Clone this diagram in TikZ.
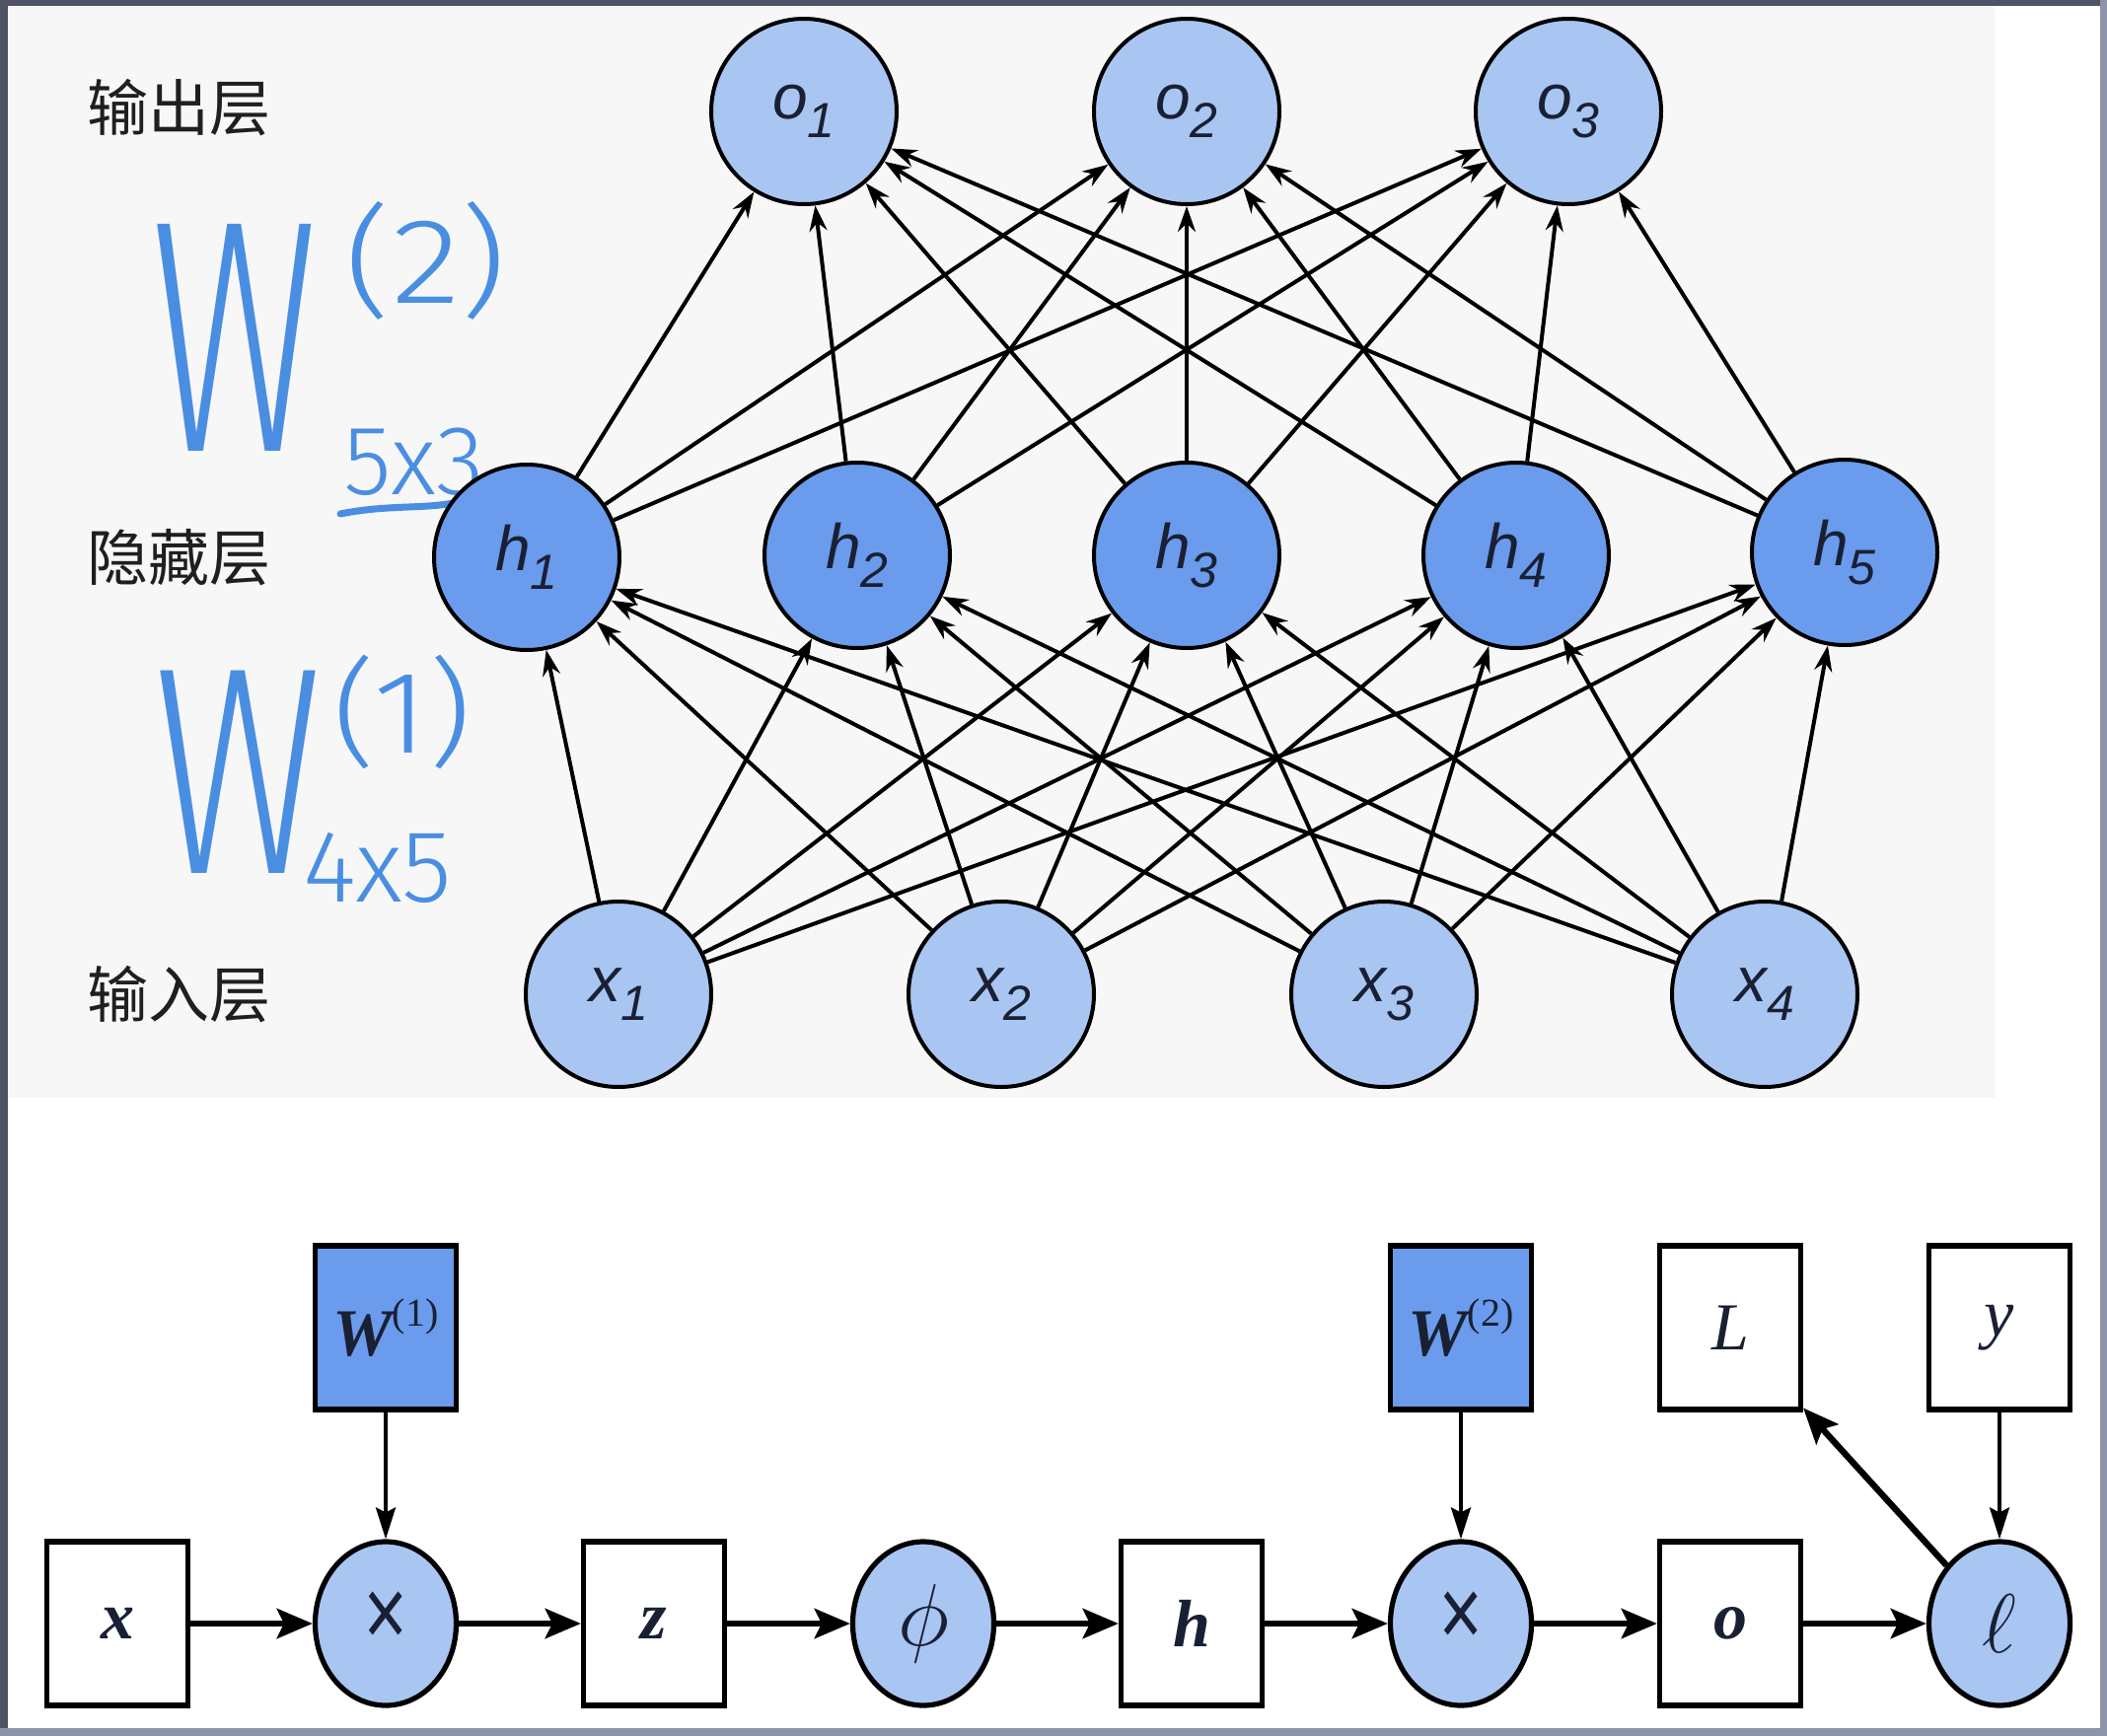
\documentclass[tikz,border=0pt]{standalone}
\usepackage{fontspec}
\usetikzlibrary{arrows.meta,shapes.geometric}
\newfontfamily\cjk{Noto Sans CJK SC}
\newfontfamily\nodefont{Liberation Sans}
\newfontfamily\seriffont{Liberation Serif}
\newfontfamily\hand{Fira Sans Light}
\definecolor{lightblue}{RGB}{169,197,242}
\definecolor{midblue}{RGB}{106,155,236}
\definecolor{handblue}{RGB}{74,142,226}
\definecolor{txtdark}{RGB}{26,32,52}
\definecolor{topbg}{RGB}{247,247,247}
\definecolor{framedark}{RGB}{78,84,100}
\definecolor{framelight}{RGB}{140,148,168}
\newcommand\nsub[2]{#1\raisebox{-0.3em}{\fontsize{25}{25}\selectfont #2}}
\tikzset{
  neuron/.style={circle, draw=black, line width=2pt, minimum size=94pt, inner sep=0pt,
    text=txtdark, font=\nodefont\itshape\fontsize{32}{32}\selectfont},
  inneuron/.style={neuron, fill=lightblue},
  hidneuron/.style={neuron, fill=midblue},
  edge/.style={line width=2pt, -{Stealth[length=13pt,width=9pt]}},
  layerlabel/.style={font=\cjk\fontsize{31}{31}\selectfont, text=black!88},
  hw/.style={text=handblue, inner sep=0pt},
  varbox/.style={rectangle, draw=black, line width=2.6pt, minimum width=71.5pt, minimum height=83pt,
    inner sep=0pt, fill=white, font=\seriffont\fontsize{34}{34}\selectfont, text=txtdark},
  parbox/.style={varbox, fill=midblue},
  opnode/.style={ellipse, draw=black, line width=2.6pt, minimum width=71.5pt, minimum height=83pt,
    inner sep=0pt, fill=lightblue, font=\fontsize{34}{34}\selectfont, text=txtdark},
  barrow/.style={line width=3.2pt, -{Stealth[length=18pt,width=15pt,inset=3.5pt]}},
  varrow/.style={line width=2pt, -{Stealth[length=16pt,width=10pt,inset=2.5pt]}},
}
\begin{document}
\begin{tikzpicture}[x=0.5pt, y=-0.5pt]
\useasboundingbox (0,0) rectangle (2136,1760);
% background and frame
\fill[white] (0,0) rectangle (2136,1760);
\fill[topbg] (8,6) rectangle (2023,1113);
\fill[framedark] (0,0) rectangle (8,1760);
\fill[framedark] (0,0) rectangle (2136,6);
\fill[framelight] (2129,0) rectangle (2136,1760);
\fill[framelight] (0,1752) rectangle (2136,1760);

% layer labels
\node[layerlabel] (lo) at (181,109) {输出层};
\node[layerlabel] (lh) at (181,565) {隐藏层};
\node[layerlabel] (li) at (181,1008) {输入层};

% handwritten notes
\node[hw, font=\hand\fontsize{168}{168}\selectfont, anchor=base] (w2) at (238,457) {\scalebox{0.62}[1]{W}};
\node[hw, font=\hand\fontsize{56}{56}\selectfont] (w2sup) at (432,264) {\scalebox{1.3}[1.1]{(2)}};
\node[hw, font=\hand\fontsize{50}{50}\selectfont] (w2sub) at (420,468) {5x3};
\draw[handblue, line width=3.5pt, line cap=round] (345,521) .. controls (400,510) and (440,518) .. (474,506) .. controls (487,502) and (497,507) .. (507,514);
\node[hw, font=\hand\fontsize{150}{150}\selectfont, anchor=base] (w1) at (242,885) {\scalebox{0.7}[1]{W}};
\node[hw, font=\hand\fontsize{54}{54}\selectfont] (w1sup) at (408,722) {\scalebox{1.25}[1.1]{(1)}};
\node[hw, font=\hand\fontsize{52}{52}\selectfont] (w1sub) at (383,880) {4x5};

% output layer
\node[inneuron] (o1) at (815,113) {\nsub{o}{1}};
\node[inneuron] (o2) at (1203,113) {\nsub{o}{2}};
\node[inneuron] (o3) at (1590,113) {\nsub{o}{3}};
% hidden layer
\node[hidneuron] (h1) at (534,565) {\nsub{h}{1}};
\node[hidneuron] (h2) at (869,563) {\nsub{h}{2}};
\node[hidneuron] (h3) at (1203,563) {\nsub{h}{3}};
\node[hidneuron] (h4) at (1537,563) {\nsub{h}{4}};
\node[hidneuron] (h5) at (1870,560) {\nsub{h}{5}};
% input layer
\node[inneuron] (x1) at (627,1008) {\nsub{x}{1}};
\node[inneuron] (x2) at (1015,1008) {\nsub{x}{2}};
\node[inneuron] (x3) at (1403,1008) {\nsub{x}{3}};
\node[inneuron] (x4) at (1789,1008) {\nsub{x}{4}};

\foreach \i in {1,...,4}
  \foreach \j in {1,...,5}
    \draw[edge] (x\i) -- (h\j);
\foreach \j in {1,...,5}
  \foreach \k in {1,2,3}
    \draw[edge] (h\j) -- (o\k);

% computational graph
\node[varbox] (bx) at (119,1646) {\bfseries\itshape x};
\node[opnode] (m1) at (391,1646) {\hand\fontsize{52}{52}\selectfont\scalebox{1}[1.3]{×}};
\node[varbox] (bz) at (663,1646) {\bfseries\itshape z};
\node[opnode] (phi) at (936,1646) {\scalebox{1.8}{$\phi$}};
\node[varbox] (bh) at (1208,1646) {\bfseries\itshape h};
\node[opnode] (m2) at (1481,1646) {\hand\fontsize{52}{52}\selectfont\scalebox{1}[1.3]{×}};
\node[varbox] (bo) at (1754,1646) {\bfseries\itshape o};
\node[opnode] (loss) at (2027,1646) {\scalebox{1.7}{$\ell$}};
\node[parbox] (W1) at (391,1346) {{\bfseries\itshape W}\raisebox{0.45em}{\fontsize{20}{20}\selectfont (1)}};
\node[parbox] (W2) at (1481,1346) {{\bfseries\itshape W}\raisebox{0.45em}{\fontsize{20}{20}\selectfont (2)}};
\node[varbox] (bL) at (1754,1346) {\itshape L};
\node[varbox] (by) at (2027,1346) {\itshape y};

\draw[barrow] (bx) -- (m1);
\draw[barrow] (m1) -- (bz);
\draw[barrow] (bz) -- (phi);
\draw[barrow] (phi) -- (bh);
\draw[barrow] (bh) -- (m2);
\draw[barrow] (m2) -- (bo);
\draw[barrow] (bo) -- (loss);
\draw[varrow] (W1) -- (m1);
\draw[varrow] (W2) -- (m2);
\draw[varrow] (by) -- (loss);
\draw[barrow] (loss) -- (bL);
\end{tikzpicture}
\end{document}
